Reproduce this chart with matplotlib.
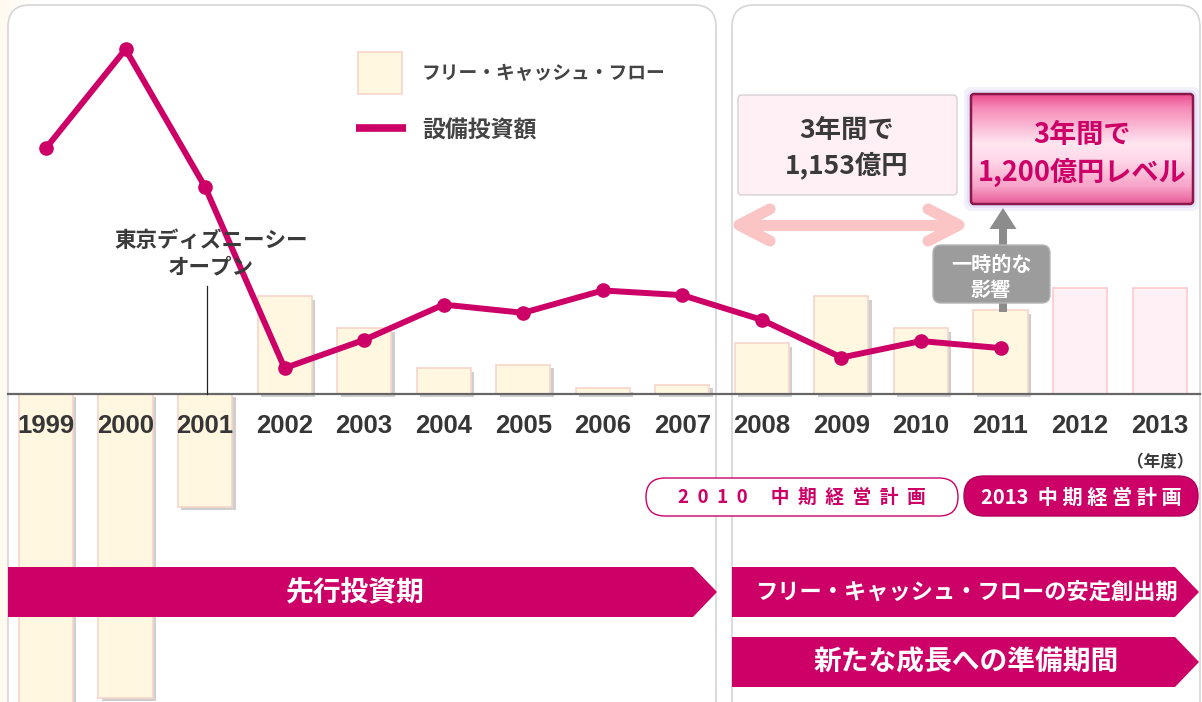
import numpy as np
import matplotlib.pyplot as plt
import matplotlib.patheffects as pe
from matplotlib.patches import FancyBboxPatch, Rectangle, Polygon, FancyArrow
from matplotlib.colors import LinearSegmentedColormap
from matplotlib.transforms import blended_transform_factory

plt.rcParams['font.family'] = ['Noto Sans CJK JP', 'DejaVu Sans']

# fiscal years (2012-2013 are plan years)
years = ['1999', '2000', '2001', '2002', '2003', '2004', '2005', '2006',
         '2007', '2008', '2009', '2010', '2011', '2012', '2013']
# free cash flow, 億円
fcf = [-2700, -2580, -960, 830, 560, 220, 250, 50, 80, 430, 830, 560, 710]
# plan level for 2012-2013
fcf_plan = [900, 900]
# capital expenditure, 億円
capex = [2090, 2930, 1760, 220, 460, 760, 690, 880, 840, 630, 310, 450, 390]

MAGENTA = '#CC0066'
W, H = 1202, 702

fig = plt.figure(figsize=(W / 100, H / 100), dpi=100)
fig.patch.set_facecolor('white')

# background layer (pixel coords, y down)
bg = fig.add_axes([0, 0, 1, 1], zorder=0)
bg.set_xlim(0, W)
bg.set_ylim(H, 0)
bg.axis('off')

for x0, x1 in [(8, 716), (732, 1200)]:
    bg.add_patch(FancyBboxPatch((x0, 5), x1 - x0, 800,
                                boxstyle='round,pad=0,rounding_size=22',
                                fc='white', ec='#D6D6D6', lw=1.2))
cream = LinearSegmentedColormap.from_list('cream', ['#FFF5E4', '#FFFFFF'])
bg.imshow(np.linspace(0, 1, 60).reshape(1, -1), extent=(0, 40, H, 0),
          cmap=cream, aspect='auto', alpha=0.6, zorder=0.5)
bg.set_xlim(0, W)
bg.set_ylim(H, 0)

# data layer
ax = fig.add_axes([0, 0, 1, 1], zorder=1)
ax.axis('off')
idx = np.arange(len(fcf))
idx_plan = np.arange(len(fcf), len(years))

shadow = [pe.SimplePatchShadow(offset=(2.5, -2.5), shadow_rgbFace='#777777', alpha=0.35),
          pe.Normal()]
ax.bar(idx, fcf, width=0.68, color='#FFF7DF', edgecolor='#F7D5CB',
       linewidth=1.2, path_effects=shadow, zorder=2)
ax.bar(idx_plan, fcf_plan, width=0.68, color='#FFF0F5', edgecolor='#FFC9D0',
       linewidth=1.2, zorder=2)
ax.axhline(0, xmin=8 / W, xmax=1200 / W, color='#666666', lw=1.6, zorder=3)
ax.plot(idx, capex, color=MAGENTA, lw=4.3, marker='o', ms=9.5,
        solid_joinstyle='round', zorder=4)
ax.set_xlim(-0.578, 14.533)
ax.set_ylim(-2618, 3349)

# overlay layer (pixel coords, y down)
ov = fig.add_axes([0, 0, 1, 1], zorder=2)
ov.set_xlim(0, W)
ov.set_ylim(H, 0)
ov.axis('off')

tr = blended_transform_factory(ax.transData, ov.transData)
for i, y in enumerate(years):
    ov.text(i, 426, y, transform=tr, ha='center', va='center', fontsize=18.5,
            fontweight='bold', family='Liberation Sans', color='#363636')
ov.text(1160, 462, '（年度）', ha='center', va='center', fontsize=12,
        fontweight='bold', color='#3A3A3A')

# legend
ov.add_patch(Rectangle((358, 52), 44, 42, fc='#FFF7DF', ec='#F7D5CB', lw=1.2))
ov.plot([356, 406], [128, 128], color=MAGENTA, lw=5.5, solid_capstyle='butt')
ov.text(422, 74, 'フリー・キャッシュ・フロー', fontsize=13.5, fontweight='bold',
        color='#444444', va='center')
ov.text(422, 131, '設備投資額', fontsize=16.5, fontweight='bold',
        color='#444444', va='center')

# DisneySea note
ov.text(211, 254, '東京ディズニーシー\nオープン', ha='center', va='center',
        fontsize=15.5, fontweight='bold', color='#3A3A3A', linespacing=1.3)
ov.plot([207, 207], [286, 394], color='#222222', lw=0.9)

# 3-year boxes
ov.add_patch(FancyBboxPatch((738, 95), 219, 100,
                            boxstyle='round,pad=0,rounding_size=4',
                            fc='#FFF0F5', ec='#D8D0D4', lw=1))
ov.text(847, 148, '3年間で\n1,153億円', ha='center', va='center', fontsize=19,
        fontweight='bold', color='#3A3A3A', linespacing=1.35)

for pad, a in [(7, 0.35), (4, 0.5)]:
    ov.add_patch(FancyBboxPatch((971 - pad, 94 - pad), 222 + 2 * pad, 110 + 2 * pad,
                                boxstyle='round,pad=0,rounding_size=8',
                                fc='#DCD4F6', ec='none', alpha=a))
box2 = FancyBboxPatch((971, 94), 222, 110, boxstyle='round,pad=0,rounding_size=3',
                      fc='none', ec='#8A1848', lw=1.8, zorder=3)
ov.add_patch(box2)
pinkgrad = LinearSegmentedColormap.from_list(
    'pinkgrad', [(0, '#EC4E8E'), (0.12, '#F58AB6'), (0.45, '#FFE6F1'),
                 (0.6, '#FFD8E9'), (0.85, '#F7A2C7'), (1, '#E85C98')])
im = ov.imshow(np.linspace(0, 1, 120).reshape(-1, 1), extent=(971, 1193, 204, 94),
               cmap=pinkgrad, aspect='auto', zorder=2)
im.set_clip_path(box2)
ov.text(1082, 154, '3年間で\n1,200億円レベル', ha='center', va='center',
        fontsize=19.5, fontweight='bold', color=MAGENTA, linespacing=1.35, zorder=4)

# double-headed pink arrow
pink = '#FBC5C5'
ov.plot([742, 956], [225, 225], color=pink, lw=8, solid_capstyle='round')
ov.plot([770, 739, 770], [209, 225, 241], color=pink, lw=8,
        solid_capstyle='round', solid_joinstyle='round')
ov.plot([928, 959, 928], [209, 225, 241], color=pink, lw=8,
        solid_capstyle='round', solid_joinstyle='round')

# grey arrow and box
ov.add_patch(FancyArrow(1003, 312, 0, -104, width=8, head_width=27, head_length=21,
                        length_includes_head=True, fc='#8C8C8C', ec='none'))
ov.add_patch(FancyBboxPatch((933, 245), 117, 58, boxstyle='round,pad=0,rounding_size=8',
                            fc='#9C9C9C', ec='#B5B5B5', lw=1))
ov.text(991, 277, '一時的な\n影響', ha='center', va='center', fontsize=14.5,
        fontweight='bold', color='white', linespacing=1.25)

# plan pills
ov.add_patch(FancyBboxPatch((646, 478), 312, 38, boxstyle='round,pad=0,rounding_size=19',
                            fc='white', ec=MAGENTA, lw=1))
ov.text(802, 497, '2  0  1  0　 中  期  経  営  計  画', ha='center', va='center',
        fontsize=13.5, fontweight='bold', color=MAGENTA)
ov.add_patch(FancyBboxPatch((964, 476), 234, 40, boxstyle='round,pad=0,rounding_size=20',
                            fc=MAGENTA, ec='#B0005A', lw=1))
ov.text(1081, 497, '2013  中 期 経 営 計 画', ha='center', va='center',
        fontsize=14.5, fontweight='bold', color='white')

# period arrows
periods = [
    ('先行投資期', 8, 693, 717, 567, 617, 355, 20),
    ('フリー・キャッシュ・フローの安定創出期', 732, 1175, 1199, 567, 617, 966, 16),
    ('新たな成長への準備期間', 732, 1175, 1199, 637, 687, 966, 20),
]
for label, x0, xs, xt, y0, y1, tx, fs in periods:
    ov.add_patch(Polygon([(x0, y0), (xs, y0), (xt, (y0 + y1) / 2), (xs, y1), (x0, y1)],
                         closed=True, fc=MAGENTA, ec='none'))
    ov.text(tx, (y0 + y1) / 2, label, ha='center', va='center', fontsize=fs,
            fontweight='bold', color='white')

fig.savefig('out.png', dpi=100)
